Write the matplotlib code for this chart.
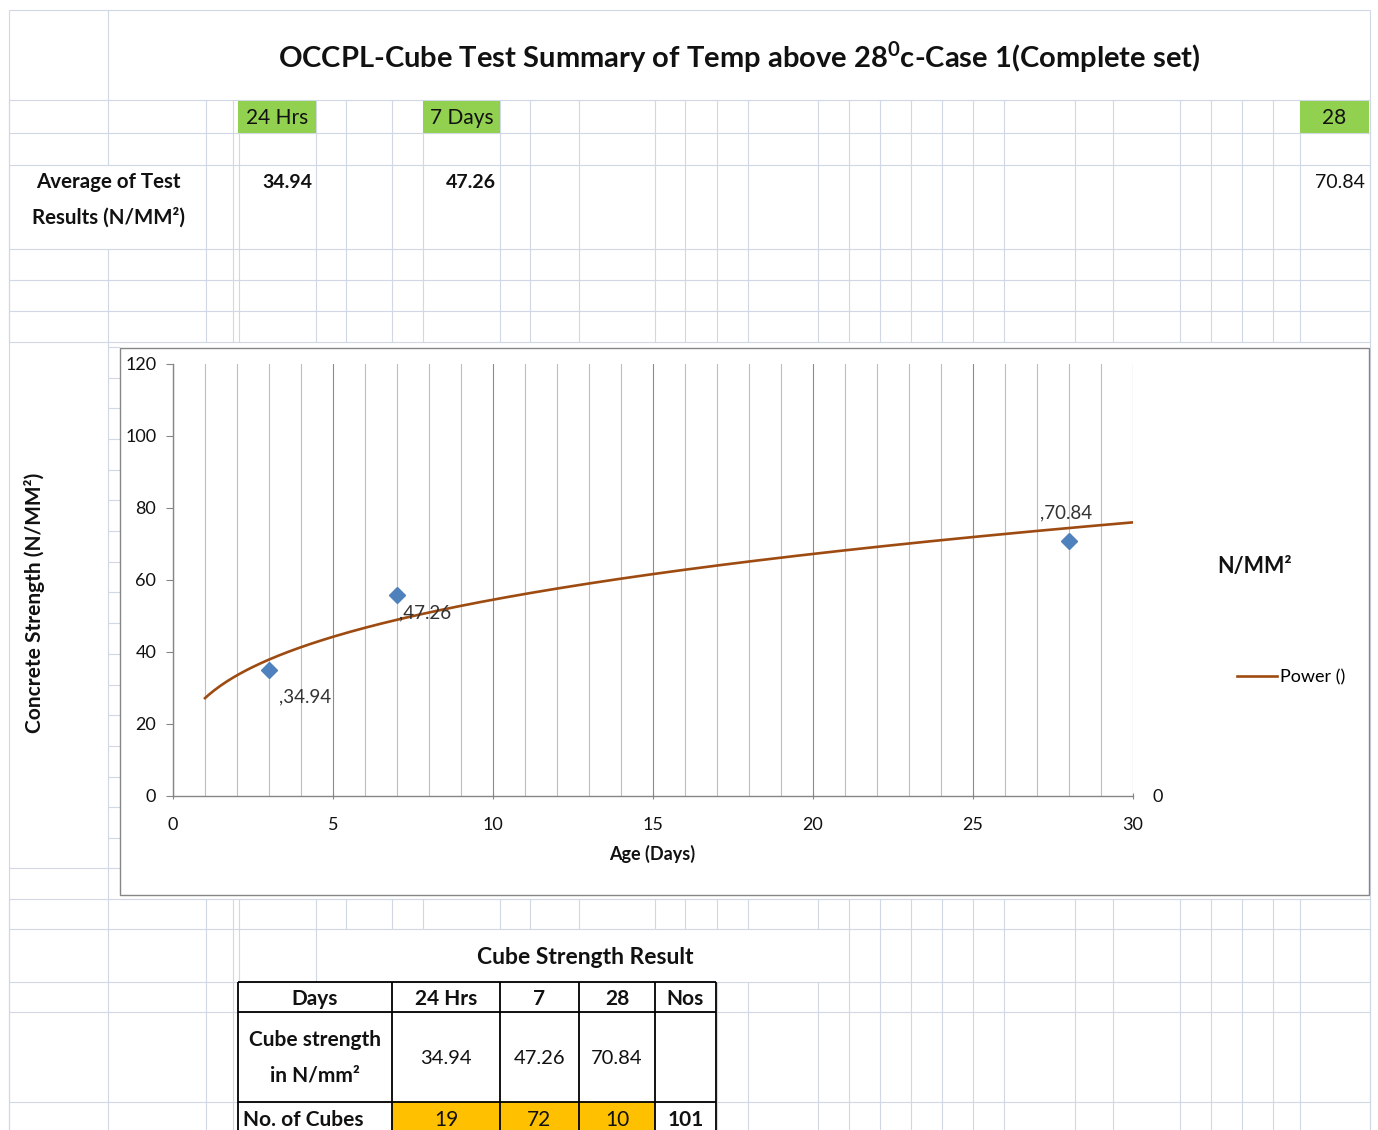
import numpy as np
import matplotlib
matplotlib.use("Agg")
import matplotlib.pyplot as plt
from matplotlib.patches import Rectangle
from matplotlib.ticker import MultipleLocator

plt.rcParams["font.family"] = ["Lato", "DejaVu Sans"]
plt.rcParams["mathtext.fontset"] = "custom"
plt.rcParams["mathtext.rm"] = "Lato"
plt.rcParams["mathtext.bf"] = "Lato:bold"

# ---------------- data ----------------
ages = [3, 7, 28]
strength = [34.94, 55.8, 70.84]
point_labels = [",34.94", ",47.26", ",70.84"]

avg_heads = ["24 Hrs", "7 Days", "28"]
avg_values = ["34.94", "47.26", "70.84"]

tbl_days = ["24 Hrs", "7", "28", "Nos"]
tbl_strength = ["34.94", "47.26", "70.84", ""]
tbl_cubes = ["19", "72", "10", "101"]

W, H = 1378, 1130
GRID = "#D0D7E5"
TXT = "#111111"
GREEN = "#92D050"
ORANGE = "#FFC000"
BROWN = "#9E4B12"
BLUE = "#4F81BD"
AXC = "#868686"

fig = plt.figure(figsize=(W / 100, H / 100), dpi=100)
bg = fig.add_axes([0, 0, 1, 1])
bg.set_xlim(0, W)
bg.set_ylim(H, 0)
bg.axis("off")


def hl(y, x0, x1, c=GRID, lw=0.8, z=1):
    bg.plot([x0, x1], [y, y], color=c, lw=lw, zorder=z, solid_capstyle="butt")


def vl(x, y0, y1, c=GRID, lw=0.8, z=1):
    bg.plot([x, x], [y0, y1], color=c, lw=lw, zorder=z, solid_capstyle="butt")


def t(x, y, s, size=12, bold=False, ha="center", color=TXT, **kw):
    bg.text(x, y, s, fontsize=size, fontweight="bold" if bold else "normal",
            ha=ha, va="center", color=color, zorder=6, **kw)


COLS = [9, 108, 206, 233, 239, 316, 346, 392, 423, 500, 530, 579, 655, 685, 717,
        748, 818, 849, 880, 911, 942, 973, 1004, 1075, 1113, 1180, 1211, 1242,
        1273, 1300, 1370]

# ---------------- spreadsheet grid ----------------
hl(10, 9, 1370)
vl(9, 10, H)
vl(1370, 10, H)
vl(108, 10, 100)
for y in [100, 133, 165, 249, 280, 311, 342, 899, 929, 982, 1012, 1102]:
    hl(y, 9, 1370)
for c in COLS:
    vl(c, 100, 165)
    vl(c, 249, 342)
    vl(c, 899, 929)
    if c != 108:
        vl(c, 165, 249)
    if c <= 316 or c >= 849:
        vl(c, 929, 982)
    if c <= 233 or c >= 717:
        vl(c, 982, H)
vl(108, 342, 899)
for y in [347, 378, 408, 439, 470, 500, 531, 562, 592, 623, 654, 685, 715,
          746, 777, 807, 838]:
    hl(y, 108, 120)
hl(868, 9, 120)

# green header cells
for (x0, x1), s in zip([(238, 316), (423, 500), (1300, 1369)], avg_heads):
    bg.add_patch(Rectangle((x0, 101), x1 - x0, 32, fc=GREEN, ec="none", zorder=2))
    t((x0 + x1) / 2, 118, s, size=15)

t(739, 57, "OCCPL-Cube Test Summary of Temp above 28$^{\\mathbf{0}}$c-Case 1(Complete set)",
  size=21, bold=True)
t(108, 182, "Average of Test", size=14.8, bold=True)
t(108, 217, "Results (N/MM\u00b2)", size=14.8, bold=True)
for x, s, b in zip([312, 496, 1365], avg_values, [True, True, False]):
    t(x, 182, s, size=14, bold=b, ha="right")

# ---------------- chart box ----------------
bg.add_patch(Rectangle((120, 348), 1249, 547, fc="white", ec=AXC, lw=1.0, zorder=3))
t(35, 603, "Concrete Strength (N/MM\u00b2)", size=15, bold=True, rotation=90)
t(652, 854, "Age (Days)", size=13, bold=True)
t(1255, 566, "N/MM\u00b2", size=15.5, bold=True)

pax = fig.add_axes([173 / W, 1 - 796 / H, 960 / W, 432 / H])
pax.patch.set_alpha(0)
pax.set_xlim(0, 30)
pax.set_ylim(0, 120)
pax.xaxis.set_major_locator(MultipleLocator(5))
pax.xaxis.set_minor_locator(MultipleLocator(1))
pax.yaxis.set_major_locator(MultipleLocator(20))
pax.grid(axis="x", which="minor", color="#BEBEBE", lw=0.8)
pax.grid(axis="x", which="major", color="#8C8C8C", lw=0.8)
pax.set_axisbelow(True)
for s in ["top", "right"]:
    pax.spines[s].set_visible(False)
for s in ["left", "bottom"]:
    pax.spines[s].set_color(AXC)
    pax.spines[s].set_linewidth(1.0)
pax.tick_params(axis="y", which="major", length=5, color=AXC, labelsize=13, pad=7,
                labelcolor=TXT)
pax.tick_params(axis="x", which="major", length=5, direction="inout", color=AXC,
                labelsize=13, pad=12.5, labelcolor=TXT)
pax.tick_params(axis="x", which="minor", length=0)

# power trendline fitted to the plotted points
b, ln_a = np.polyfit(np.log(ages), np.log(strength), 1)
xs = np.linspace(1, 30, 300)
pax.plot(xs, np.exp(ln_a) * xs ** b, color=BROWN, lw=1.9, zorder=3, label="Power ()")
pax.plot(ages, strength, ls="none", marker="D", ms=8, color=BLUE, zorder=4)
for x, y, s, off in zip(ages, strength, point_labels, [(10, -27), (2, -18), (-29, 28)]):
    pax.annotate(s, (x, y), xytext=off, textcoords="offset pixels", ha="left",
                 va="center", fontsize=13.5, color="#333333", zorder=5)

sec = pax.twinx()
sec.set_ylim(0, 120)
sec.set_yticks([0])
sec.tick_params(axis="y", length=0, labelsize=13, pad=14, labelcolor=TXT)
for s in sec.spines.values():
    s.set_visible(False)

leg = pax.legend(loc="center left", bbox_to_anchor=(1228 / W, 1 - 677 / H),
                 bbox_transform=fig.transFigure, frameon=False, fontsize=13,
                 handlelength=2.2, handletextpad=0.2, borderpad=0)

# ---------------- bottom table ----------------
t(585, 957, "Cube Strength Result", size=16.5, bold=True)
TX = [238, 392, 500, 579, 655, 716]
TY = [982, 1012, 1102, 1140]
for i in range(1, 4):
    bg.add_patch(Rectangle((TX[i], TY[2]), TX[i + 1] - TX[i], TY[3] - TY[2],
                           fc=ORANGE, ec="none", zorder=4))
for x in TX:
    vl(x, TY[0], TY[3], c="black", lw=1.3, z=5)
for y in TY[:3]:
    hl(y, TX[0], TX[-1], c="black", lw=1.3, z=5)

t(315, 999, "Days", size=15, bold=True)
for i, s in enumerate(tbl_days):
    t((TX[i + 1] + TX[i + 2]) / 2, 999, s, size=15, bold=True)
t(315, 1040, "Cube strength", size=15, bold=True)
t(315, 1075, "in N/mm\u00b2", size=15, bold=True)
for i, s in enumerate(tbl_strength):
    t((TX[i + 1] + TX[i + 2]) / 2, 1058, s, size=14.5)
t(243, 1120, "No. of Cubes", size=15, bold=True, ha="left")
for i, s in enumerate(tbl_cubes):
    t((TX[i + 1] + TX[i + 2]) / 2, 1120, s, size=15, bold=(i == 3))

fig.savefig("out.png", dpi=100, facecolor="white")
